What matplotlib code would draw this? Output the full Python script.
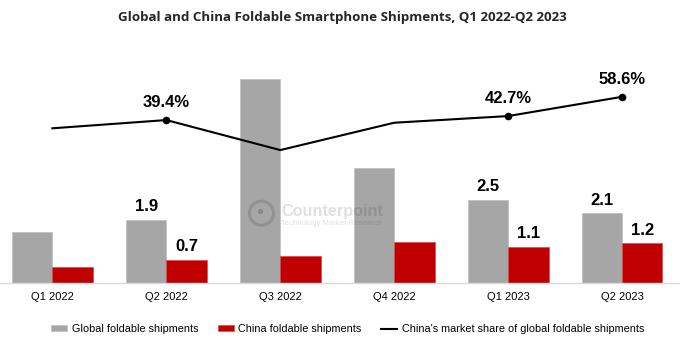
import matplotlib.pyplot as plt
import numpy as np

plt.rcParams["font.family"] = ["Liberation Sans", "DejaVu Sans"]

# ---------------------------------------------------------------
# Datos (millones de unidades / % de cuota)
# ---------------------------------------------------------------
trimestres = ["Q1 2022", "Q2 2022", "Q3 2022", "Q4 2022", "Q1 2023", "Q2 2023"]
envios_global = [1.53, 1.9, 6.11, 3.46, 2.5, 2.1]
envios_china = [0.48, 0.7, 0.83, 1.25, 1.1, 1.2]
cuota_china = [32.6, 39.4, 14.6, 37.2, 42.7, 58.6]

etiquetas_global = ["", "1.9", "", "", "2.5", "2.1"]
etiquetas_china = ["", "0.7", "", "", "1.1", "1.2"]
etiquetas_cuota = ["", "39.4%", "", "", "42.7%", "58.6%"]

GRIS = "#A6A6A6"
ROJO = "#C00000"

fig = plt.figure(figsize=(6.95, 3.56), dpi=100)
ax = fig.add_axes([0.0, 0.204, 0.977, 0.657])

x = np.arange(len(trimestres))
ancho = 0.355

bars_g = ax.bar(x - ancho / 2, envios_global, ancho, color=GRIS,
                edgecolor="#BDBDBD", linewidth=0.5,
                label="Global foldable shipments")
bars_c = ax.bar(x + ancho / 2, envios_china, ancho, color=ROJO,
                edgecolor="#D94A4A", linewidth=0.5,
                label="China foldable shipments")

for bar, txt in zip(list(bars_g) + list(bars_c), etiquetas_global + etiquetas_china):
    if txt:
        ax.annotate(txt, (bar.get_x() + bar.get_width() / 2, bar.get_height()),
                    xytext=(0, 4), textcoords="offset points",
                    ha="center", va="bottom", fontsize=12, fontweight="bold")

ax.set_xlim(-0.46, 5.5)
ax.set_ylim(0, 7)
ax.set_xticks(x)
ax.set_xticklabels(trimestres, fontsize=8)
ax.tick_params(axis="x", length=0, pad=6)
ax.set_yticks([])
for lado in ["top", "right", "left"]:
    ax.spines[lado].set_visible(False)
ax.spines["bottom"].set_color("#D9D9D9")
ax.spines["bottom"].set_linewidth(1.0)

# Marca de agua (semi-transparente, encima de las barras)
ax.text(2.01, 2.16, "Counterpoint", fontsize=11.7, fontweight="bold",
        color="black", alpha=0.12, ha="left", va="center", zorder=3)
ax.text(2.01, 1.78, "Technology Market Research", fontsize=5.6,
        color="black", alpha=0.12, ha="left", va="center", zorder=3)
ax.scatter([1.835], [2.1], s=300, facecolors="none", edgecolors="black",
           alpha=0.12, linewidths=2.2, zorder=3)
ax.scatter([1.82], [2.16], s=8, color="black", alpha=0.12, zorder=3)

# Cuota de China (eje secundario oculto)
ax2 = ax.twinx()
ax2.set_ylim(-95.5, 97.7)
ax2.axis("off")
ax2.plot(x, cuota_china, color="black", linewidth=1.5,
         label="China's market share of global foldable shipments")
idx = [i for i, t in enumerate(etiquetas_cuota) if t]
ax2.plot(x[idx], [cuota_china[i] for i in idx], "o", color="black", markersize=4.5)
for i in idx:
    ax2.annotate(etiquetas_cuota[i], (x[i], cuota_china[i]),
                 xytext=(0, 7), textcoords="offset points",
                 ha="center", va="bottom", fontsize=12, fontweight="bold")

fig.text(0.492, 0.952, "Global and China Foldable Smartphone Shipments, Q1 2022-Q2 2023",
         ha="center", va="center", fontsize=9.6, fontweight="bold",
         family=["Open Sans", "DejaVu Sans"], color="#262626")

h1, l1 = ax.get_legend_handles_labels()
h2, l2 = ax2.get_legend_handles_labels()
fig.legend(h1 + h2[:1], l1 + l2[:1], loc="center", bbox_to_anchor=(0.5, 0.076),
           ncol=3, frameon=False, fontsize=7.8, handlelength=1.5, handleheight=0.45,
           columnspacing=1.8, handletextpad=0.4)

fig.savefig("out.png", dpi=100)
